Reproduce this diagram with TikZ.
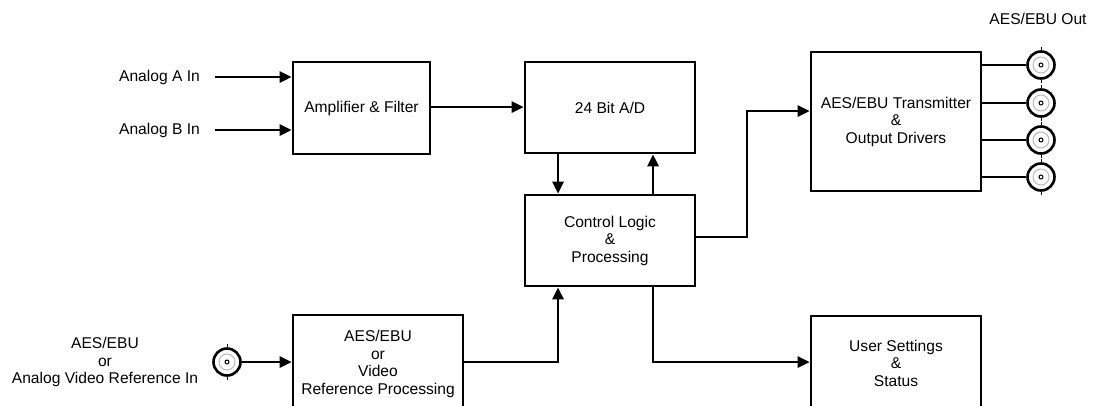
\documentclass[tikz,border=0pt]{standalone}
\usepackage{fontspec}
\setmainfont{Liberation Sans}
\usetikzlibrary{arrows.meta,positioning}

% a BNC jack: outer ring, inner ring, pin and two stubs
\newcommand{\bncjack}[2]{%
  \node[bnc] (#1) at (#2) {};
  \draw[draw=gray!55, line width=1pt] (#1.center) circle[radius=8pt];
  \draw[line width=1pt] (#1.center) circle[radius=2pt];
  \draw[line width=1pt] (#1.north) -- ++(0,-3) (#1.south) -- ++(0,3);
}

\begin{document}
\begin{tikzpicture}[x=1pt, y=-1pt,
    every node/.style={font=\fontsize{15.6}{17.5}\selectfont},
    blk/.style={draw, line width=2.6pt, align=center, inner sep=0pt},
    lbl/.style={align=center, inner sep=0pt},
    sig/.style={-{Triangle[length=12pt,width=11pt]}, line width=2.6pt},
    wire/.style={line width=2.6pt},
    bnc/.style={draw, circle, line width=2.6pt, minimum size=27pt, inner sep=0pt, fill=white},
  ]
  \useasboundingbox (0,0) rectangle (1095,405);
  \clip (0,0) rectangle (1095,405);

  % main chain
  \node[blk, minimum width=137pt, minimum height=92pt] (amp) at (361.5,108) {Amplifier \& Filter};
  \node[blk, minimum width=170pt, minimum height=91pt] (adc) at (610,107.5) {24 Bit A/D};
  \node[blk, minimum width=170pt, minimum height=91pt] (ctrl) at (610,240.5)
        {Control Logic\\\&\\Processing};
  \node[blk, minimum width=170pt, minimum height=139pt] (tx) at (896,121.5)
        {AES/EBU Transmitter\\\&\\Output Drivers};

  % lower row, cut by the page edge
  \node[blk, minimum width=170pt, minimum height=98pt] (ref) at (378,364)
        {AES/EBU\\or\\Video\\Reference Processing};
  \node[blk, minimum width=170pt, minimum height=94pt] (user) at (896,363)
        {User Settings\\\&\\Status};

  % analog inputs
  \node[lbl, anchor=east] (ina) at (200,77) {Analog A In};
  \node[lbl, anchor=east] (inb) at (200,130) {Analog B In};
  \draw[sig] ([xshift=15pt]ina.east) -- (amp.west |- ina.east);
  \draw[sig] ([xshift=15pt]inb.east) -- (amp.west |- inb.east);

  \draw[sig] (amp.east |- 0,107) -- (adc.west |- 0,107);
  \draw[sig] ([xshift=-52pt]adc.south) -- ([xshift=-52pt]ctrl.north);
  \draw[sig] ([xshift=43pt]ctrl.north) -- ([xshift=43pt]adc.south);
  \draw[sig] (ctrl.east |- 0,237) -| (747,111) -- (tx.west |- 0,111);

  % reference input
  \node[lbl] (reflbl) at (105,362) {AES/EBU\\or\\Analog Video Reference In};
  \bncjack{refin}{227,362}
  \draw[sig] (refin.east) -- (ref.west |- refin.east);
  \draw[sig] (ref.east |- 0,362) -| ([xshift=-52pt]ctrl.south);
  \draw[sig] ([xshift=43pt]ctrl.south) |- (user.west |- 0,362);

  % outputs
  \node[lbl] (outlbl) at (1038,19) {AES/EBU Out};
  \foreach \y [count=\i] in {65,103,140,177} {
    \bncjack{out\i}{1041,\y}
    \draw[wire] (tx.east |- out\i.west) -- (out\i.west);
  }
\end{tikzpicture}
\end{document}
